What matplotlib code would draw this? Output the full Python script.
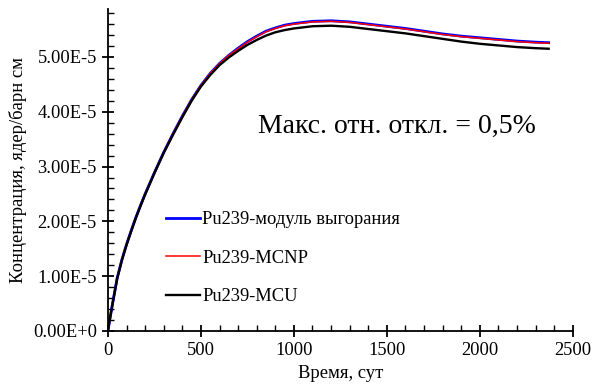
import matplotlib
matplotlib.use("Agg")
import matplotlib.pyplot as plt
from matplotlib.ticker import MultipleLocator, FuncFormatter
import numpy as np

plt.rcParams['font.family'] = ['Liberation Serif', 'DejaVu Serif']

# Pu-239 concentration vs time, units of 1e-5 nuclei/(barn*cm)
days = [0, 10, 25, 50, 75, 100, 125, 150, 175, 200, 250, 300, 350, 400, 450, 500,
        550, 600, 650, 700, 750, 800, 850, 900, 950, 1000, 1100, 1200, 1300, 1400,
        1500, 1600, 1700, 1800, 1900, 2000, 2100, 2200, 2300, 2370]
burnup_module = [0, 0.21, 0.50, 0.97, 1.30, 1.58, 1.83, 2.07, 2.29, 2.50, 2.89, 3.26, 3.60, 3.92,
                 4.22, 4.48, 4.70, 4.88, 5.03, 5.16, 5.28, 5.38, 5.47, 5.53, 5.58, 5.61, 5.65,
                 5.66, 5.64, 5.60, 5.56, 5.52, 5.47, 5.42, 5.38, 5.35, 5.32, 5.29, 5.27, 5.26]
mcnp = [0, 0.21, 0.50, 0.97, 1.30, 1.58, 1.83, 2.07, 2.29, 2.50, 2.89, 3.26, 3.60, 3.92,
        4.22, 4.48, 4.70, 4.88, 5.03, 5.15, 5.27, 5.37, 5.46, 5.52, 5.57, 5.60, 5.64,
        5.65, 5.63, 5.59, 5.55, 5.51, 5.46, 5.41, 5.37, 5.34, 5.31, 5.28, 5.26, 5.25]
mcu = [0, 0.21, 0.50, 0.96, 1.29, 1.57, 1.82, 2.06, 2.28, 2.49, 2.88, 3.25, 3.58, 3.90,
       4.20, 4.46, 4.67, 4.85, 4.99, 5.11, 5.22, 5.31, 5.39, 5.45, 5.49, 5.52, 5.56,
       5.57, 5.55, 5.51, 5.47, 5.43, 5.38, 5.33, 5.28, 5.24, 5.21, 5.18, 5.16, 5.15]
scale = 1e-5

labels = ['Pu239-модуль выгорания', 'Pu239-MCNP', 'Pu239-MCU']


def excel_sci(v, pos):
    # 0.00E+0 / 5.00E-5 style labels
    if abs(v) < 1e-12:
        return '0.00E+0'
    exp = int(np.floor(np.log10(abs(v)) + 1e-9))
    return f'{v / 10**exp:.2f}E{exp}'


fig = plt.figure(figsize=(5.93, 3.86), dpi=100)
ax = fig.add_axes([0.182, 0.1425, 0.784, 0.8335])

ax.plot(days, np.array(burnup_module) * scale, color='#0000ff', lw=2.0,
        solid_joinstyle='round', label=labels[0])
ax.plot(days, np.array(mcnp) * scale, color='#ff0000', lw=1.1,
        solid_joinstyle='round', label=labels[1])
ax.plot(days, np.array(mcu) * scale, color='black', lw=1.7,
        solid_joinstyle='round', label=labels[2])

ax.set_xlim(0, 2500)
ax.set_ylim(0, 5.87e-5)
ax.xaxis.set_major_locator(MultipleLocator(500))
ax.xaxis.set_minor_locator(MultipleLocator(100))
ax.yaxis.set_major_locator(MultipleLocator(1e-5))
ax.yaxis.set_minor_locator(MultipleLocator(2e-6))
ax.yaxis.set_major_formatter(FuncFormatter(excel_sci))

for side in ('top', 'right'):
    ax.spines[side].set_visible(False)
ax.spines['left'].set_linewidth(1.3)
ax.spines['bottom'].set_linewidth(1.3)
ax.tick_params(which='major', direction='inout', length=9, width=1.3, labelsize=13.3)
ax.tick_params(which='minor', direction='in', length=4, width=1.0)

ax.set_xlabel('Время, сут', fontsize=13.4)
ax.set_ylabel('Концентрация, ядер/барн см', fontsize=13.4)

ax.text(807, 3.74e-5, 'Макс. отн. откл. = 0,5%', fontsize=20, ha='left', va='center')

ax.legend(loc='center left', bbox_to_anchor=(0.125, 0.226), frameon=False, fontsize=13.3,
          handlelength=1.85, handletextpad=0.1, labelspacing=1.17, borderpad=0, borderaxespad=0)

fig.savefig('out.png', dpi=100)
